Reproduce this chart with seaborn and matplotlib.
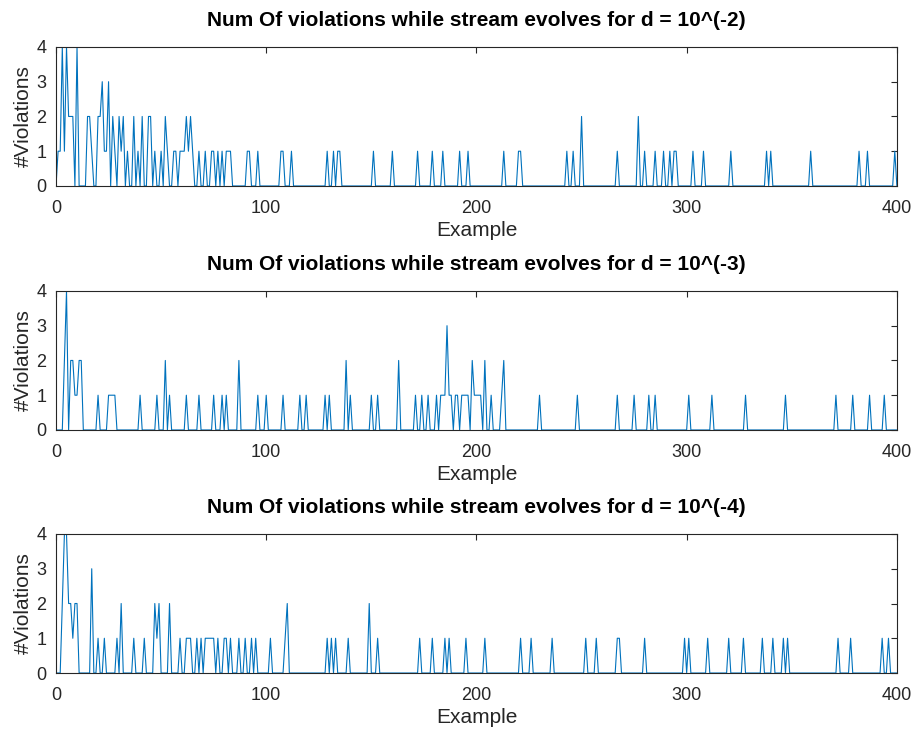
import matplotlib
matplotlib.use("Agg")
import matplotlib.pyplot as plt
import numpy as np
import pandas as pd
import seaborn as sns

# examples 0..400, violations are zero except at the listed examples
n_examples = 400

d2_idx = [1, 2, 3, 4, 5, 6, 7, 8, 10, 15, 16, 17, 20, 21, 22, 23, 24, 25, 27, 28,
          30, 31, 32, 34, 37, 39, 41, 44, 45, 47, 50, 52, 53, 56, 57, 59, 60, 61,
          62, 63, 64, 65, 68, 71, 74, 75, 77, 79, 81, 82, 83, 91, 92, 96,
          107, 108, 112, 129, 132, 134, 135, 151, 160, 172, 179, 184, 192, 196,
          213, 220, 221, 243, 246, 250, 267, 277, 280, 285, 289, 292, 294, 295,
          303, 308, 321, 338, 340, 359, 382, 386, 399]
d2_val = [1, 1, 4, 1, 4, 2, 2, 2, 4, 2, 2, 1, 2, 2, 3, 1, 1, 3, 2, 1,
          2, 1, 2, 1, 2, 1, 2, 2, 2, 1, 1, 2, 1, 1, 1, 1, 1, 1,
          2, 1, 2, 1, 1, 1, 1, 1, 1, 1, 1, 1, 1, 1, 1, 1,
          1, 1, 1, 1, 1, 1, 1, 1, 1, 1, 1, 1, 1, 1,
          1, 1, 1, 1, 1, 2, 1, 2, 1, 1, 1, 1, 1, 1,
          1, 1, 1, 1, 1, 1, 1, 1, 1]

d3_idx = [4, 5, 7, 8, 9, 10, 11, 12, 20, 25, 26, 27, 28, 40, 48, 52, 54, 62, 68,
          75, 79, 81, 87, 96,
          100, 108, 116, 119, 128, 130, 138, 140, 150, 153, 163, 171, 174, 177,
          181, 183, 184, 185, 186, 187, 188, 190, 191, 193, 194, 195, 196, 198,
          199, 200, 201, 202, 204, 207, 212, 213,
          230, 248, 267, 275, 282, 285,
          301, 312, 328, 347, 371, 379, 387, 394]
d3_val = [2, 4, 2, 2, 1, 1, 2, 2, 1, 1, 1, 1, 1, 1, 1, 2, 1, 1, 1,
          1, 1, 1, 2, 1,
          1, 1, 1, 1, 1, 1, 2, 1, 1, 1, 2, 1, 1, 1,
          1, 1, 1, 1, 3, 1, 1, 1, 1, 1, 1, 1, 1, 2,
          1, 1, 1, 1, 2, 1, 1, 2,
          1, 1, 1, 1, 1, 1,
          1, 1, 1, 1, 1, 1, 1, 1]

d4_idx = [3, 4, 5, 6, 7, 8, 9, 10, 17, 20, 23, 29, 31, 37, 42, 47, 48, 49, 54,
          59, 62, 63, 64, 67, 69, 71, 72, 73, 74, 75, 77, 80, 81, 83, 87, 90,
          93, 95,
          102, 109, 110, 129, 131, 133, 139, 149, 153, 173, 179, 185, 187, 195,
          204, 221, 226, 236, 252, 257, 267, 268, 280, 299,
          301, 310, 320, 327, 336, 341, 346, 348, 372, 378, 393, 396]
d4_val = [2, 4, 4, 2, 2, 1, 2, 2, 3, 1, 1, 1, 2, 1, 1, 2, 1, 2, 2,
          1, 1, 1, 1, 1, 1, 1, 1, 1, 1, 1, 1, 1, 1, 1, 1, 1,
          1, 1,
          1, 1, 2, 1, 1, 1, 1, 2, 1, 1, 1, 1, 1, 1,
          1, 1, 1, 1, 1, 1, 1, 1, 1, 1,
          1, 1, 1, 1, 1, 1, 1, 1, 1, 1, 1, 1]

titles = ["Num Of violations while stream evolves for d = 10^(-2)",
          "Num Of violations while stream evolves for d = 10^(-3)",
          "Num Of violations while stream evolves for d = 10^(-4)"]
x_ticks = [0, 100, 200, 300, 400]
y_ticks = [0, 1, 2, 3, 4]

LINE_COLOR = "#0072BD"
AX_COLOR = "#262626"


def build_series(idx, val):
    counts = np.zeros(n_examples + 1)
    counts[idx] = val
    return pd.DataFrame({"example": np.arange(n_examples + 1), "violations": counts})


sns.set_style("white")
plt.rcParams["font.family"] = ["Liberation Sans", "DejaVu Sans"]
plt.rcParams["axes.edgecolor"] = AX_COLOR
plt.rcParams["axes.linewidth"] = 0.8
plt.rcParams["xtick.color"] = AX_COLOR
plt.rcParams["ytick.color"] = AX_COLOR

fig = plt.figure(figsize=(9.15, 7.29), dpi=100)
left, width, height = 0.0612, 0.919, 0.1907
bottoms = [0.7449, 0.4102, 0.0768]

series = [build_series(d2_idx, d2_val),
          build_series(d3_idx, d3_val),
          build_series(d4_idx, d4_val)]

for df, title, bottom in zip(series, titles, bottoms):
    ax = fig.add_axes([left, bottom, width, height])
    sns.lineplot(data=df, x="example", y="violations", ax=ax,
                 color=LINE_COLOR, linewidth=0.8, estimator=None)
    ax.set_xlim(0, n_examples)
    ax.set_ylim(0, 4)
    ax.set_xticks(x_ticks)
    ax.set_yticks(y_ticks)
    ax.tick_params(direction="in", length=4, width=0.8, labelsize=13,
                   top=True, right=True)
    ax.tick_params(axis="x", pad=10)
    ax.tick_params(axis="y", pad=7)
    for sp in ax.spines.values():
        sp.set_visible(True)
        sp.set_color(AX_COLOR)
    ax.set_xlabel("Example", fontsize=15, color=AX_COLOR, labelpad=3)
    ax.set_ylabel("#Violations", fontsize=15, color=AX_COLOR, labelpad=2)
    ax.set_title(title, fontsize=15, fontweight="bold", color="black", pad=15)

fig.savefig("out.png", dpi=100)
